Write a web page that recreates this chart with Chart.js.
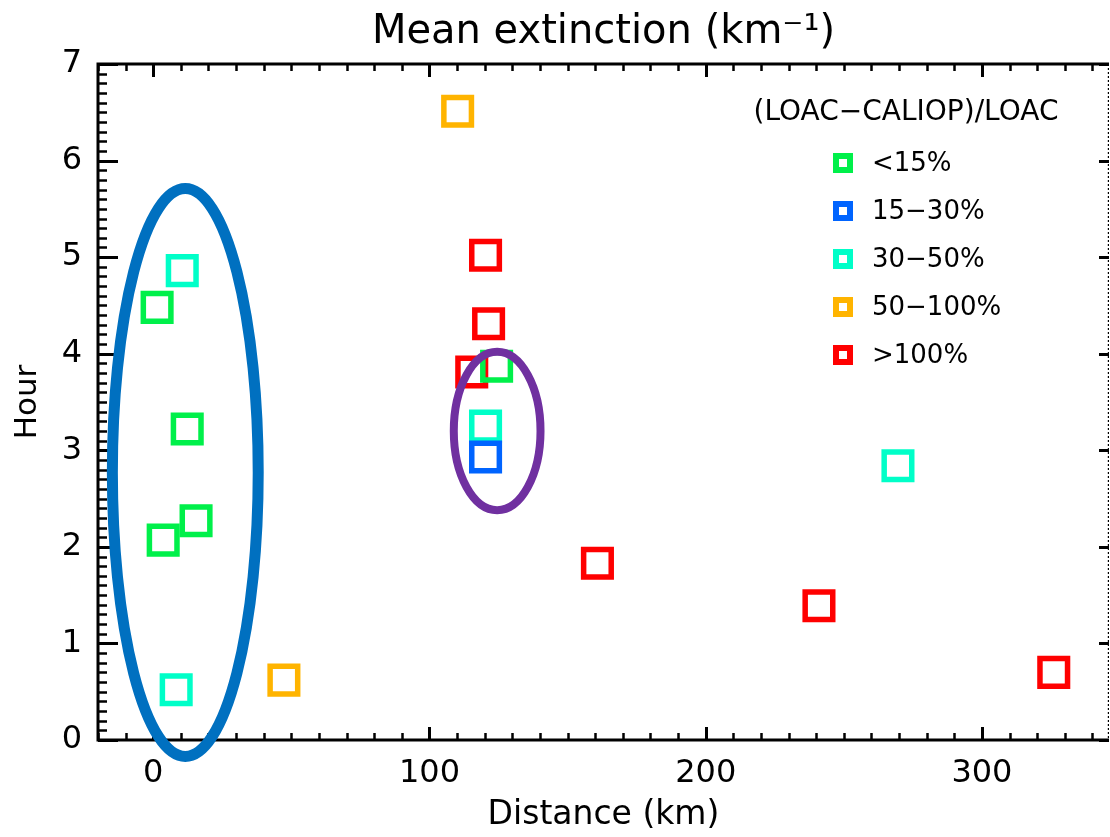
<!DOCTYPE html>
<html>
<head>
<meta charset="utf-8">
<script src="https://cdn.jsdelivr.net/npm/chart.js@4.4.0/dist/chart.umd.min.js"></script>
<style>
  html, body { margin: 0; padding: 0; background: #fff; }
  #wrap { width: 1110px; height: 837px; }
</style>
</head>
<body>
<div id="wrap"><canvas id="scatter" width="1110" height="837"></canvas></div>
<script>
// =========================
// DATA
// =========================
const groupLabels = ["<15%", "15−30%", "30−50%", "50−100%", ">100%"];
const groupColors = ["#00F04A", "#0064FF", "#00FFC8", "#FFB400", "#FF0000"];

// distance (km) / hour per relative-difference class
const distLt15 = [1.4, 12.3, 15.5, 3.6, 124.3];
const hourLt15 = [4.48, 3.22, 2.27, 2.07, 3.87];
const dist15to30 = [120.3];
const hour15to30 = [2.93];
const dist30to50 = [10.5, 8.3, 120.3, 269.6];
const hour30to50 = [4.86, 0.52, 3.25, 2.84];
const dist50to100 = [47.3, 110.2];
const hour50to100 = [0.62, 6.51];
const distGt100 = [120.3, 121.4, 115.3, 160.8, 241.0, 326.0];
const hourGt100 = [5.02, 4.31, 3.81, 1.83, 1.39, 0.70];

const xTickValues = [0, 100, 200, 300];
const yTickValues = [0, 1, 2, 3, 4, 5, 6, 7];
const xRange = [-20, 346];
const yRange = [0, 7];

// highlighted groups (centre / half-axes in km and hours)
const ringCenterX = [11.6, 124.5];
const ringCenterY = [2.77, 3.20];
const ringHalfX = [26.4, 15.7];
const ringHalfY = [2.94, 0.82];
const ringColors = ["#0070C0", "#7030A0"];
const ringWidths = [11, 8];

const FONT = "'DejaVu Sans', sans-serif";

function toPoints(xs, ys) {
    return xs.map((v, i) => ({ x: v, y: ys[i] }));
}

const seriesX = [distLt15, dist15to30, dist30to50, dist50to100, distGt100];
const seriesY = [hourLt15, hour15to30, hour30to50, hour50to100, hourGt100];

const datasets = groupLabels.map((label, i) => ({
    label: label,
    data: toPoints(seriesX[i], seriesY[i]),
    pointStyle: "rect",
    pointRadius: 19.5,
    pointBorderWidth: 5.5,
    borderColor: groupColors[i],
    backgroundColor: "rgba(0,0,0,0)",
    showLine: false
}));

// =========================
// FRAME + INWARD TICKS + RINGS
// =========================
const framePlugin = {
    id: "frame",
    afterDraw(chart) {
        const { ctx, chartArea: a, scales } = chart;
        const x = scales.x, y = scales.y;
        ctx.save();
        ctx.strokeStyle = "#000";
        ctx.lineCap = "butt";

        ctx.lineWidth = 3;
        ctx.beginPath();
        ctx.moveTo(a.right, a.top);
        ctx.lineTo(a.left, a.top);
        ctx.lineTo(a.left, a.bottom);
        ctx.lineTo(a.right, a.bottom);
        ctx.stroke();

        // right border is dotted
        ctx.lineWidth = 1.2;
        ctx.setLineDash([2, 2]);
        ctx.beginPath();
        ctx.moveTo(a.right - 0.6, a.top);
        ctx.lineTo(a.right - 0.6, a.bottom);
        ctx.stroke();
        ctx.setLineDash([]);

        // x ticks, every 10 km, long at 100
        for (let k = Math.ceil(xRange[0] / 10); k * 10 <= xRange[1]; k++) {
            const px = Math.round(x.getPixelForValue(k * 10)) + 0.5;
            const major = k % 10 === 0;
            const len = major ? 13 : 7;
            ctx.lineWidth = major ? 3 : 2.5;
            ctx.beginPath();
            ctx.moveTo(px, a.bottom);
            ctx.lineTo(px, a.bottom - len);
            ctx.moveTo(px, a.top);
            ctx.lineTo(px, a.top + len);
            ctx.stroke();
        }

        // y ticks, every 0.1 h, long at whole hours
        for (let k = yRange[0] * 10; k <= yRange[1] * 10; k++) {
            const py = Math.round(y.getPixelForValue(k / 10)) + 0.5;
            const major = k % 10 === 0;
            ctx.lineWidth = major ? 3 : 2.5;
            ctx.beginPath();
            ctx.moveTo(a.left, py);
            ctx.lineTo(a.left + (major ? 20 : 9), py);
            if (major) {
                ctx.moveTo(a.right, py);
                ctx.lineTo(a.right - 10, py);
            }
            ctx.stroke();
        }

        // rings around groups of points
        ringCenterX.forEach((cx, i) => {
            const px = x.getPixelForValue(cx);
            const py = y.getPixelForValue(ringCenterY[i]);
            const rx = x.getPixelForValue(cx + ringHalfX[i]) - px;
            const ry = py - y.getPixelForValue(ringCenterY[i] + ringHalfY[i]);
            ctx.strokeStyle = ringColors[i];
            ctx.lineWidth = ringWidths[i];
            ctx.beginPath();
            ctx.ellipse(px, py, rx, ry, 0, 0, Math.PI * 2);
            ctx.stroke();
        });
        ctx.restore();
    }
};

// =========================
// LEGEND (inside plot, top right)
// =========================
const boxLegend = {
    id: "boxLegend",
    afterDraw(chart) {
        const { ctx, chartArea: a } = chart;
        ctx.save();
        ctx.fillStyle = "#000";
        ctx.textBaseline = "middle";
        ctx.textAlign = "center";
        ctx.font = "28px " + FONT;
        ctx.fillText("(LOAC−CALIOP)/LOAC", a.right - 203, a.top + 49);

        ctx.textAlign = "left";
        ctx.font = "26px " + FONT;
        chart.data.datasets.forEach((ds, i) => {
            const cy = a.top + 99 + i * 48;
            const cx = a.right - 266;
            ctx.strokeStyle = ds.borderColor;
            ctx.lineWidth = 6;
            ctx.strokeRect(cx - 7, cy - 7, 14, 14);
            ctx.fillText(ds.label, a.right - 237, cy + 1);
        });
        ctx.restore();
    }
};

new Chart(document.getElementById("scatter"), {
    type: "scatter",
    data: { datasets: datasets },
    options: {
        responsive: false,
        devicePixelRatio: 1,
        animation: false,
        events: [],
        layout: { autoPadding: false, padding: { top: 0, right: 1, bottom: 0, left: 0 } },
        plugins: {
            legend: { display: false },
            tooltip: { enabled: false },
            title: {
                display: true,
                fullSize: false,
                text: "Mean extinction (km⁻¹)",
                color: "#000",
                font: { family: FONT, size: 40, weight: "normal" },
                padding: { top: 9, bottom: 7 }
            }
        },
        scales: {
            x: {
                type: "linear",
                min: xRange[0],
                max: xRange[1],
                afterBuildTicks: s => { s.ticks = xTickValues.map(v => ({ value: v })); },
                afterFit: s => { s.height = 97; },
                grid: { display: false, drawTicks: false },
                border: { display: false },
                ticks: { color: "#000", padding: 14, font: { family: FONT, size: 32 } },
                title: {
                    display: true,
                    text: "Distance (km)",
                    color: "#000",
                    font: { family: FONT, size: 33 },
                    padding: { top: 0, bottom: 2 }
                }
            },
            y: {
                type: "linear",
                min: yRange[0],
                max: yRange[1],
                afterBuildTicks: s => { s.ticks = yTickValues.map(v => ({ value: v })); },
                afterFit: s => { s.width = 98; },
                grid: { display: false, drawTicks: false },
                border: { display: false },
                ticks: { color: "#000", padding: 16, font: { family: FONT, size: 32 } },
                title: {
                    display: true,
                    text: "Hour",
                    color: "#000",
                    font: { family: FONT, size: 31 },
                    padding: { top: 9, bottom: 0 }
                }
            }
        }
    },
    plugins: [framePlugin, boxLegend]
});
</script>
</body>
</html>
